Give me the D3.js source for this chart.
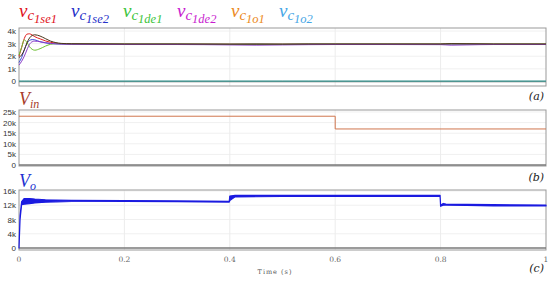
<!DOCTYPE html>
<html>
<head>
<meta charset="utf-8">
<script src="https://cdn.jsdelivr.net/npm/d3@7"></script>
<style>
  body { margin: 0; background: #fff; }
  svg { display: block; }
</style>
</head>
<body>
<svg id="chart" width="550" height="281"></svg>
<script>
// time axis
const timeTicks = [0, 0.2, 0.4, 0.6, 0.8, 1];
const timeTickLabels = ["0", "0.2", "0.4", "0.6", "0.8", "1"];

// panel (a): capacitor voltages
const capTime = [0, 0.005, 0.01, 0.015, 0.02, 0.025, 0.03, 0.04, 0.05, 0.06, 0.07, 0.08, 0.1, 0.2, 0.3, 0.4, 0.45, 0.5, 0.55, 0.6, 0.7, 0.8, 0.82, 0.85, 0.9, 1];
const vc1se1 = [2000, 2700, 3400, 3750, 3780, 3680, 3550, 3380, 3220, 3100, 3030, 3000, 2980, 2960, 2960, 2950, 2960, 2950, 2960, 2960, 2960, 2960, 2990, 2980, 2960, 2960];
const vc1se2 = [1500, 1900, 2500, 3000, 3250, 3320, 3300, 3150, 3060, 3000, 2980, 2970, 2960, 2950, 2950, 2940, 2950, 2940, 2950, 2950, 2950, 2950, 2970, 2960, 2950, 2950];
const vc1de1 = [2100, 2700, 3300, 3100, 2750, 2550, 2480, 2600, 2800, 2950, 3000, 3000, 2980, 2960, 2960, 2950, 2960, 2950, 2960, 2960, 2960, 2960, 2980, 2970, 2960, 2960];
const vc1de2 = [1300, 1600, 2000, 2500, 2950, 3150, 3200, 3150, 3080, 3020, 2990, 2970, 2950, 2930, 2930, 2900, 2880, 2900, 2920, 2930, 2930, 2920, 2880, 2900, 2930, 2930];
const vc1o1 = [1900, 2100, 2500, 3050, 3450, 3650, 3700, 3600, 3400, 3200, 3080, 3020, 2990, 2970, 2970, 2960, 2960, 2960, 2970, 2970, 2970, 2970, 3000, 2990, 2970, 2970];
const vc1o2 = [30, 30, 30, 30, 30, 30, 30, 30, 30, 30, 30, 30, 30, 30, 30, 30, 30, 30, 30, 30, 30, 30, 30, 30, 30, 30];
const capNames = ["1se1", "1se2", "1de1", "1de2", "1o1", "1o2"];
const capSeries = [vc1se1, vc1se2, vc1de1, vc1de2, vc1o1, vc1o2];
const capLabelColors = ["#e0101a", "#2530c8", "#3cc43c", "#c81ccf", "#ec8a22", "#46a6e6"];
const capLineColors = ["#e02020", "#3a48d8", "#6cbf30", "#8a3cc8", "#4a3418", "#30a8a0"];
const capTicks = [0, 1000, 2000, 3000, 4000];
const capTickLabels = ["0", "1k", "2k", "3k", "4k"];

// panel (b): input voltage
const vinTime = [0, 0.6, 1];
const vinValues = [23000, 17000, 17000];
const vinTicks = [0, 5000, 10000, 15000, 20000, 25000];
const vinTickLabels = ["0", "5k", "10k", "15k", "20k", "25k"];

// panel (c): output voltage (upper / lower ripple envelope)
const voTime = [0, 0.002, 0.005, 0.01, 0.02, 0.03, 0.05, 0.07, 0.1, 0.2, 0.3, 0.399, 0.4, 0.41, 0.5, 0.6, 0.7, 0.799, 0.8, 0.805, 0.81, 0.85, 0.9, 1];
const voHigh = [0, 9000, 13000, 13900, 13900, 13750, 13550, 13450, 13350, 13300, 13200, 13100, 14600, 14750, 14750, 14750, 14750, 14800, 12000, 12500, 12350, 12250, 12150, 12050];
const voLow = [0, 8000, 12200, 12300, 12450, 12650, 12850, 12950, 13050, 13100, 13000, 12900, 13300, 14350, 14450, 14450, 14450, 14500, 11700, 12000, 12050, 11950, 11850, 11800];
const voTicks = [0, 4000, 8000, 12000, 16000];
const voTickLabels = ["0", "4k", "8k", "12k", "16k"];

const svg = d3.select("#chart");
const left = 19, right = 546;

const x = d3.scaleLinear().domain([0, 1]).range([left, right]);

const panels = [
  { top: 28, bottom: 86, domain: [-360, 4240], ticks: capTicks, labels: capTickLabels, tag: "(a)", tagY: 100 },
  { top: 110, bottom: 166, domain: [-470, 25940], ticks: vinTicks, labels: vinTickLabels, tag: "(b)", tagY: 181 },
  { top: 190, bottom: 250, domain: [-560, 16280], ticks: voTicks, labels: voTickLabels, tag: "(c)", tagY: 272 }
];

panels.forEach((p) => {
  p.y = d3.scaleLinear().domain(p.domain).range([p.bottom, p.top]);
  const g = svg.append("g");

  // grid
  g.selectAll(".hgrid")
    .data(p.ticks.slice(1))
    .join("line")
    .attr("x1", left).attr("x2", right)
    .attr("y1", (d) => p.y(d)).attr("y2", (d) => p.y(d))
    .attr("stroke", "#f0f0f0").attr("stroke-width", 1);
  g.selectAll(".vgrid")
    .data(timeTicks.slice(1, -1))
    .join("line")
    .attr("x1", (d) => x(d)).attr("x2", (d) => x(d))
    .attr("y1", p.top).attr("y2", p.bottom)
    .attr("stroke", "#ececec").attr("stroke-width", 1);

  // frame
  g.append("rect")
    .attr("x", left).attr("y", p.top)
    .attr("width", right - left).attr("height", p.bottom - p.top)
    .attr("fill", "none").attr("stroke", "#999").attr("stroke-width", 1);

  // zero line
  g.append("line")
    .attr("x1", left).attr("x2", right)
    .attr("y1", p.y(0)).attr("y2", p.y(0))
    .attr("stroke", "#7a7a7a").attr("stroke-width", 1.5);

  // y tick labels
  g.selectAll(".ylab")
    .data(p.ticks)
    .join("text")
    .attr("x", 16)
    .attr("y", (d) => p.y(d) + 3)
    .attr("text-anchor", "end")
    .attr("font-family", "Liberation Sans, Arial, sans-serif")
    .attr("font-size", 8)
    .attr("fill", "#333")
    .text((d, i) => p.labels[i]);

  // panel tag
  g.append("text")
    .attr("x", 544).attr("y", p.tagY)
    .attr("text-anchor", "end")
    .attr("font-family", "DejaVu Serif, serif")
    .attr("font-style", "italic")
    .attr("font-size", 11)
    .attr("fill", "#222")
    .text(p.tag);
});

// panel (a) lines
const ya = panels[0].y;
const capLine = d3.line()
  .x((d, i) => x(capTime[i]))
  .y((d) => ya(d))
  .curve(d3.curveMonotoneX);
svg.append("g")
  .selectAll("path")
  .data(capSeries)
  .join("path")
  .attr("d", (d) => capLine(d))
  .attr("fill", "none")
  .attr("stroke", (d, i) => capLineColors[i])
  .attr("stroke-width", 1);

// panel (b) line
const yb = panels[1].y;
svg.append("path")
  .attr("d", d3.line()
    .x((d, i) => x(vinTime[i]))
    .y((d) => yb(d))
    .curve(d3.curveStepAfter)(vinValues))
  .attr("fill", "none")
  .attr("stroke", "#d0764e")
  .attr("stroke-width", 1);

// panel (c) band
const yc = panels[2].y;
const voArea = d3.area()
  .x((d, i) => x(voTime[i]))
  .y0((d, i) => yc(voLow[i]))
  .y1((d) => yc(d));
svg.append("path")
  .attr("d", voArea(voHigh))
  .attr("fill", "#1a1ae0")
  .attr("stroke", "#1a1ae0")
  .attr("stroke-width", 1.2)
  .attr("stroke-linejoin", "round");

// x tick labels
svg.append("g")
  .selectAll("text")
  .data(timeTicks)
  .join("text")
  .attr("x", (d) => x(d))
  .attr("y", 262)
  .attr("text-anchor", "middle")
  .attr("font-family", "DejaVu Serif, serif")
  .attr("font-size", 7.5)
  .attr("fill", "#666")
  .text((d, i) => timeTickLabels[i]);

svg.append("text")
  .attr("x", 275).attr("y", 274)
  .attr("text-anchor", "middle")
  .attr("font-family", "DejaVu Serif, serif")
  .attr("font-size", 6.5)
  .attr("letter-spacing", 1)
  .attr("fill", "#555")
  .text("Time (s)");

// legend labels for panel (a)
const capLabelX = [19, 71, 123, 177, 231, 279];
capNames.forEach((name, i) => {
  const t = svg.append("text")
    .attr("x", capLabelX[i]).attr("y", 17)
    .attr("font-family", "Liberation Serif, DejaVu Serif, serif")
    .attr("font-style", "italic")
    .attr("fill", capLabelColors[i]);
  t.append("tspan").attr("font-size", 19).text("v");
  t.append("tspan").attr("font-size", 15).attr("dy", 3).text("c");
  t.append("tspan").attr("font-size", 12.5).attr("dy", 3).text(name);
});

// V_in and V_o
const vin = svg.append("text")
  .attr("x", 19).attr("y", 105)
  .attr("font-family", "Liberation Serif, DejaVu Serif, serif")
  .attr("font-style", "italic")
  .attr("fill", "#a83c2a");
vin.append("tspan").attr("font-size", 18).text("V");
vin.append("tspan").attr("font-size", 12).attr("dy", 3).text("in");

const vo = svg.append("text")
  .attr("x", 19).attr("y", 187)
  .attr("font-family", "Liberation Serif, DejaVu Serif, serif")
  .attr("font-style", "italic")
  .attr("fill", "#2030d0");
vo.append("tspan").attr("font-size", 18).text("V");
vo.append("tspan").attr("font-size", 12).attr("dy", 3).text("o");
</script>
</body>
</html>
